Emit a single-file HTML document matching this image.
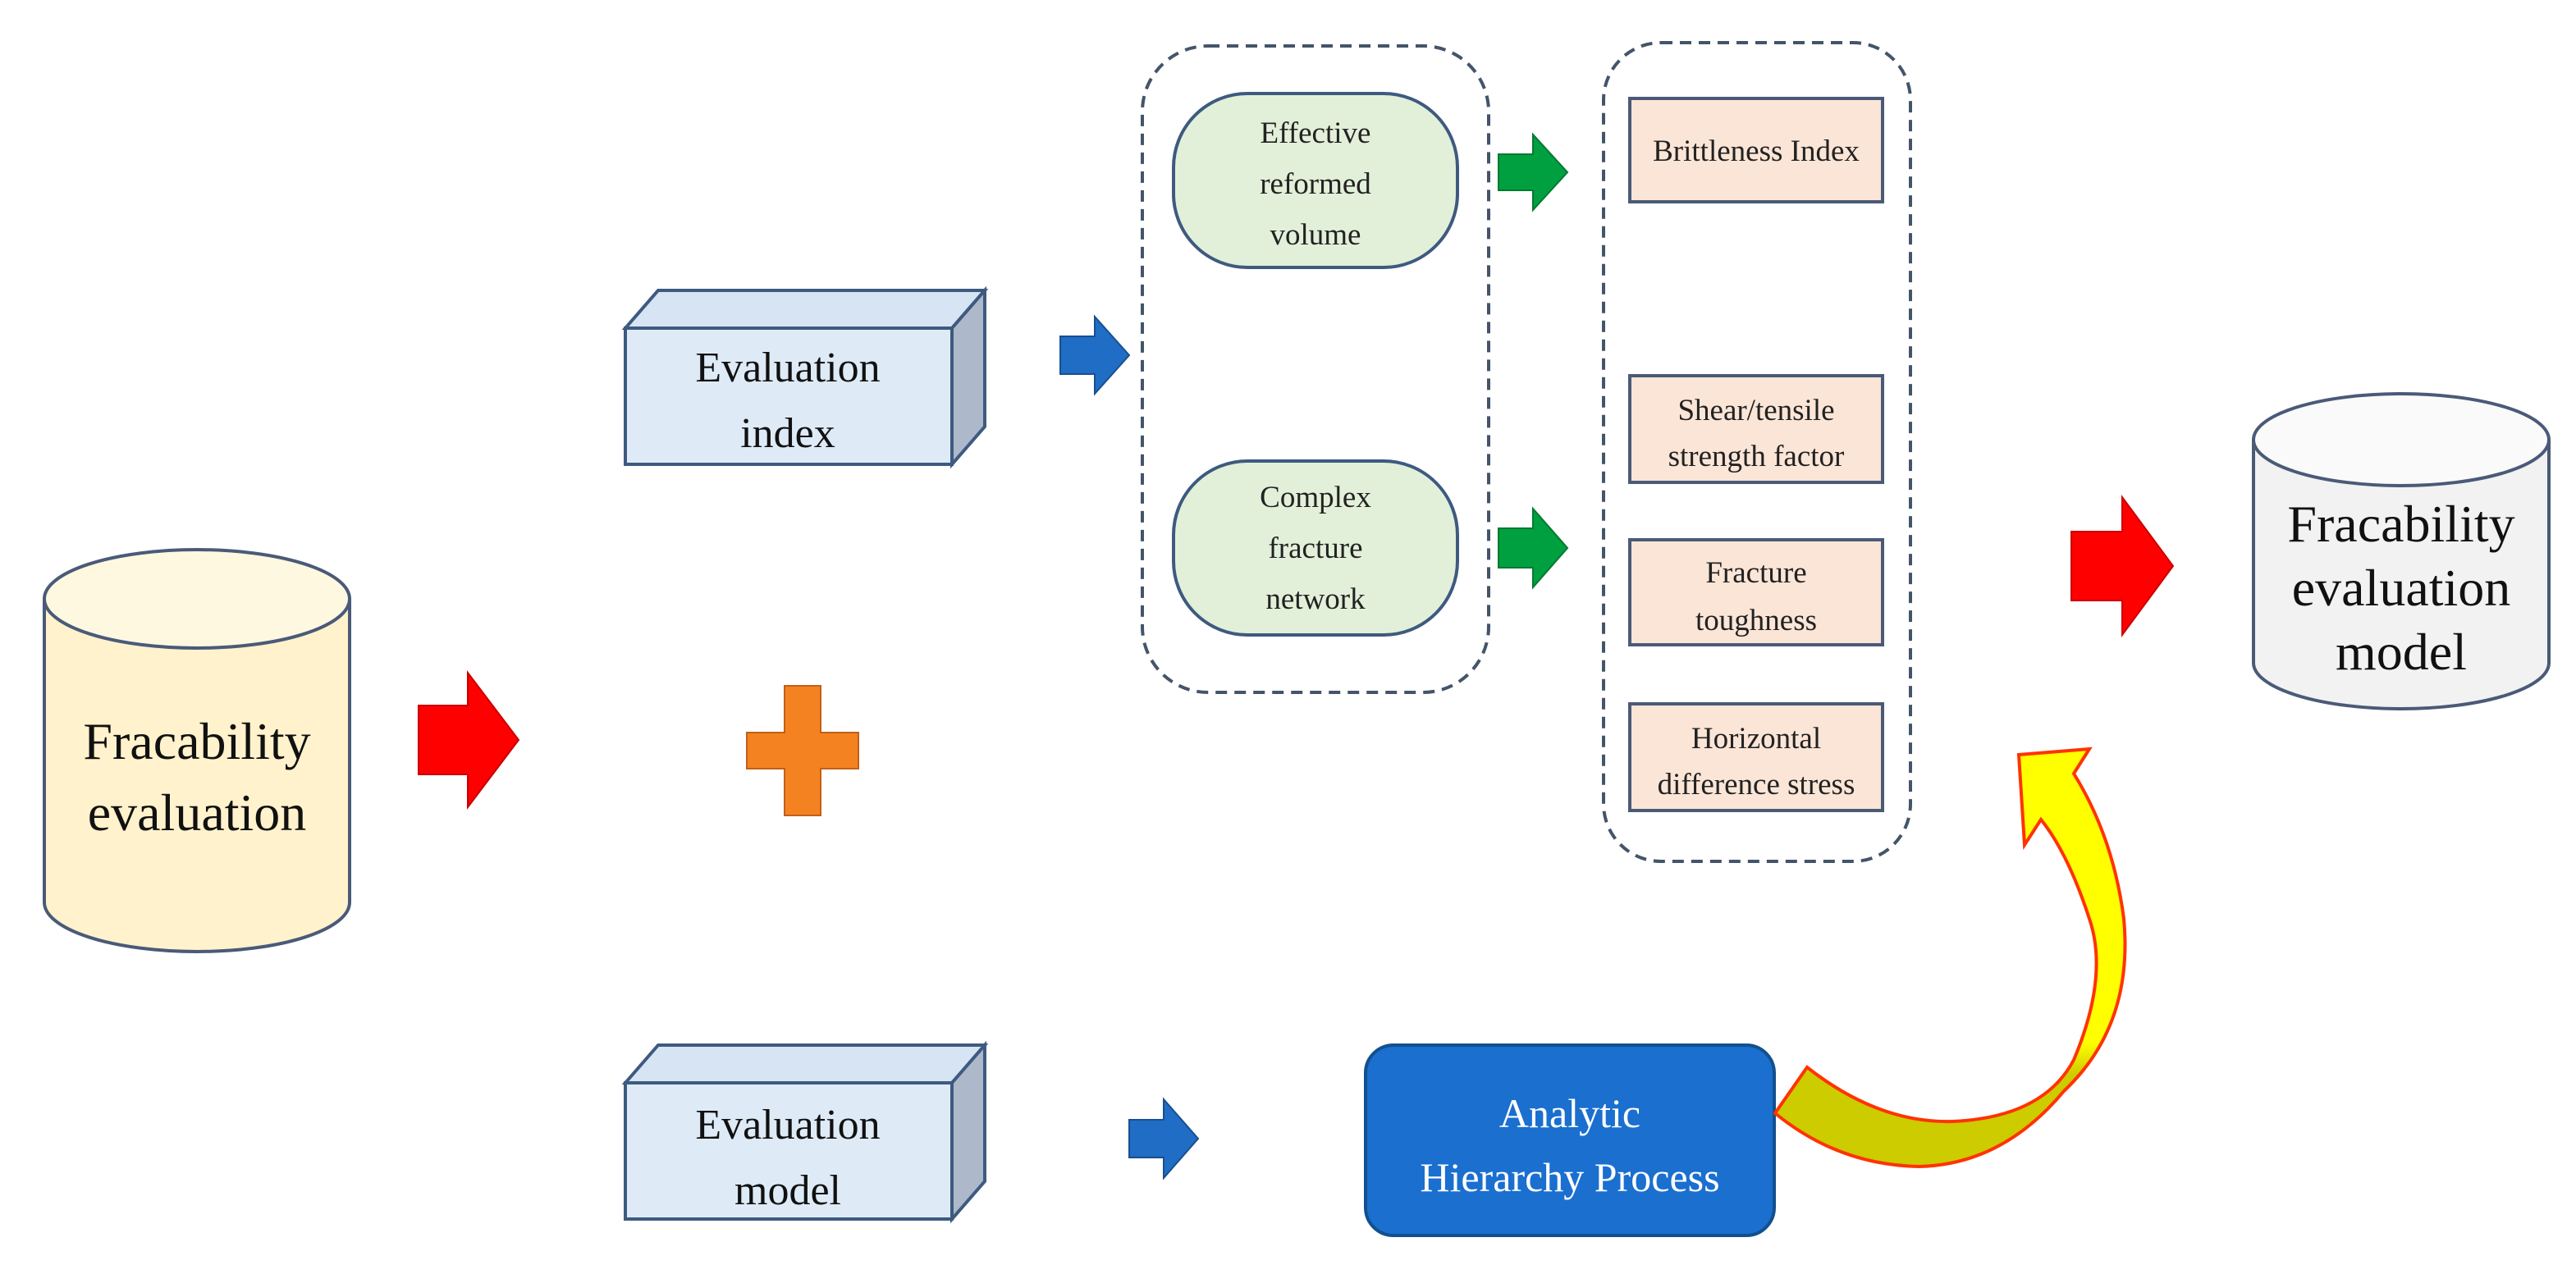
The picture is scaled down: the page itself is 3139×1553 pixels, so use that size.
<!DOCTYPE html>
<html><head><meta charset="utf-8"><style>html,body{margin:0;padding:0;background:#fff}svg{display:block}</style></head>
<body>
<svg width="3139" height="1553" viewBox="0 0 3139 1553" xmlns="http://www.w3.org/2000/svg" font-family="Liberation Serif, serif">
<defs>
<linearGradient id="yg" gradientUnits="userSpaceOnUse" x1="0" y1="1270" x2="0" y2="1310">
<stop offset="0" stop-color="#ffff00"/><stop offset="1" stop-color="#cccc00"/></linearGradient>
</defs>
<path d="M54 730 L54 1100 A186 60 0 0 0 426 1100 L426 730" fill="#fff2cc" stroke="#4a5a78" stroke-width="4"/>
<ellipse cx="240" cy="730" rx="186" ry="60" fill="#fff8e1" stroke="#4a5a78" stroke-width="4"/>
<g font-size="64" text-anchor="middle" fill="#111"><text x="240" y="925">Fracability</text><text x="240" y="1012">evaluation</text></g>
<polygon points="510,860 570,860 570,820 632,902 570,984 570,944 510,944" fill="#ff0000" stroke="#c00" stroke-width="2"/>
<polygon points="956,836 1000,836 1000,893 1046,893 1046,937 1000,937 1000,994 956,994 956,937 910,937 910,893 956,893" fill="#f58220" stroke="#c0601a" stroke-width="2"/>
<polygon points="762,400 802,354 1200,354 1160,400" fill="#d6e4f3" stroke="#3e5a80" stroke-width="4"/>
<polygon points="1160,400 1200,354 1200,520 1160,566" fill="#adb9ca" stroke="#3e5a80" stroke-width="4"/>
<rect x="762" y="400" width="398" height="166" fill="#deebf7" stroke="#3e5a80" stroke-width="4"/>
<g font-size="52" text-anchor="middle" fill="#111"><text x="960" y="465">Evaluation</text><text x="960" y="545">index</text></g>
<polygon points="762,1320 802,1274 1200,1274 1160,1320" fill="#d6e4f3" stroke="#3e5a80" stroke-width="4"/>
<polygon points="1160,1320 1200,1274 1200,1440 1160,1486" fill="#adb9ca" stroke="#3e5a80" stroke-width="4"/>
<rect x="762" y="1320" width="398" height="166" fill="#deebf7" stroke="#3e5a80" stroke-width="4"/>
<g font-size="52" text-anchor="middle" fill="#111"><text x="960" y="1388">Evaluation</text><text x="960" y="1468">model</text></g>
<polygon points="1292,410 1334,410 1334,386 1376,433 1334,480 1334,456 1292,456" fill="#1f6dc4" stroke="#184f90" stroke-width="2"/>
<polygon points="1376,1365 1418,1365 1418,1340 1460,1388 1418,1436 1418,1411 1376,1411" fill="#1f6dc4" stroke="#184f90" stroke-width="2"/>
<rect x="1392" y="56" width="422" height="788" rx="80" fill="none" stroke="#44546a" stroke-width="4" stroke-dasharray="14 9"/>
<rect x="1430" y="114" width="346" height="212" rx="90" fill="#e2f0d9" stroke="#3e5a80" stroke-width="4"/>
<rect x="1430" y="562" width="346" height="212" rx="90" fill="#e2f0d9" stroke="#3e5a80" stroke-width="4"/>
<g font-size="37" text-anchor="middle" fill="#222">
<text x="1603" y="174">Effective</text><text x="1603" y="236">reformed</text><text x="1603" y="298">volume</text>
<text x="1603" y="618">Complex</text><text x="1603" y="680">fracture</text><text x="1603" y="742">network</text></g>
<polygon points="1826,188 1868,188 1868,164 1910,210 1868,256 1868,232 1826,232" fill="#00a040" stroke="#007a30" stroke-width="2"/>
<polygon points="1826,644 1868,644 1868,620 1910,668 1868,716 1868,692 1826,692" fill="#00a040" stroke="#007a30" stroke-width="2"/>
<rect x="1954" y="52" width="374" height="998" rx="70" fill="none" stroke="#44546a" stroke-width="4" stroke-dasharray="14 9"/>
<g fill="#fbe5d6" stroke="#4a5a78" stroke-width="4">
<rect x="1986" y="120" width="308" height="126"/><rect x="1986" y="458" width="308" height="130"/>
<rect x="1986" y="658" width="308" height="128"/><rect x="1986" y="858" width="308" height="130"/></g>
<g font-size="37" text-anchor="middle" fill="#222">
<text x="2140" y="196">Brittleness Index</text>
<text x="2140" y="512">Shear/tensile</text><text x="2140" y="568">strength factor</text>
<text x="2140" y="710">Fracture</text><text x="2140" y="768">toughness</text>
<text x="2140" y="912">Horizontal</text><text x="2140" y="968">difference stress</text></g>
<polygon points="2524,648 2586,648 2586,606 2648,690 2586,774 2586,732 2524,732" fill="#ff0000" stroke="#c00" stroke-width="2"/>
<path d="M2746 536 L2746 808 A180 56 0 0 0 3106 808 L3106 536" fill="#f2f2f2" stroke="#4a5a78" stroke-width="4"/>
<ellipse cx="2926" cy="536" rx="180" ry="56" fill="#fafafa" stroke="#4a5a78" stroke-width="4"/>
<g font-size="64" text-anchor="middle" fill="#111"><text x="2926" y="660">Fracability</text><text x="2926" y="738">evaluation</text><text x="2926" y="816">model</text></g>
<rect x="1664" y="1274" width="498" height="232" rx="34" fill="#1a6fcf" stroke="#12508f" stroke-width="4"/>
<g font-size="50" text-anchor="middle" fill="#fff"><text x="1913" y="1374">Analytic</text><text x="1913" y="1452">Hierarchy Process</text></g>
<path d="M2163 1357 L2202 1301 Q2290 1370 2380 1367 Q2490 1362 2527 1292 Q2570 1190 2546 1120 Q2520 1040 2487 999 L2467 1030 L2460 920 L2546 913 L2527 943 Q2575 1020 2588 1120 Q2600 1250 2515 1330 Q2440 1420 2338 1422 Q2240 1420 2163 1357 Z" fill="url(#yg)" stroke="#ff3300" stroke-width="4" stroke-linejoin="miter"/>
</svg>
</body></html>
